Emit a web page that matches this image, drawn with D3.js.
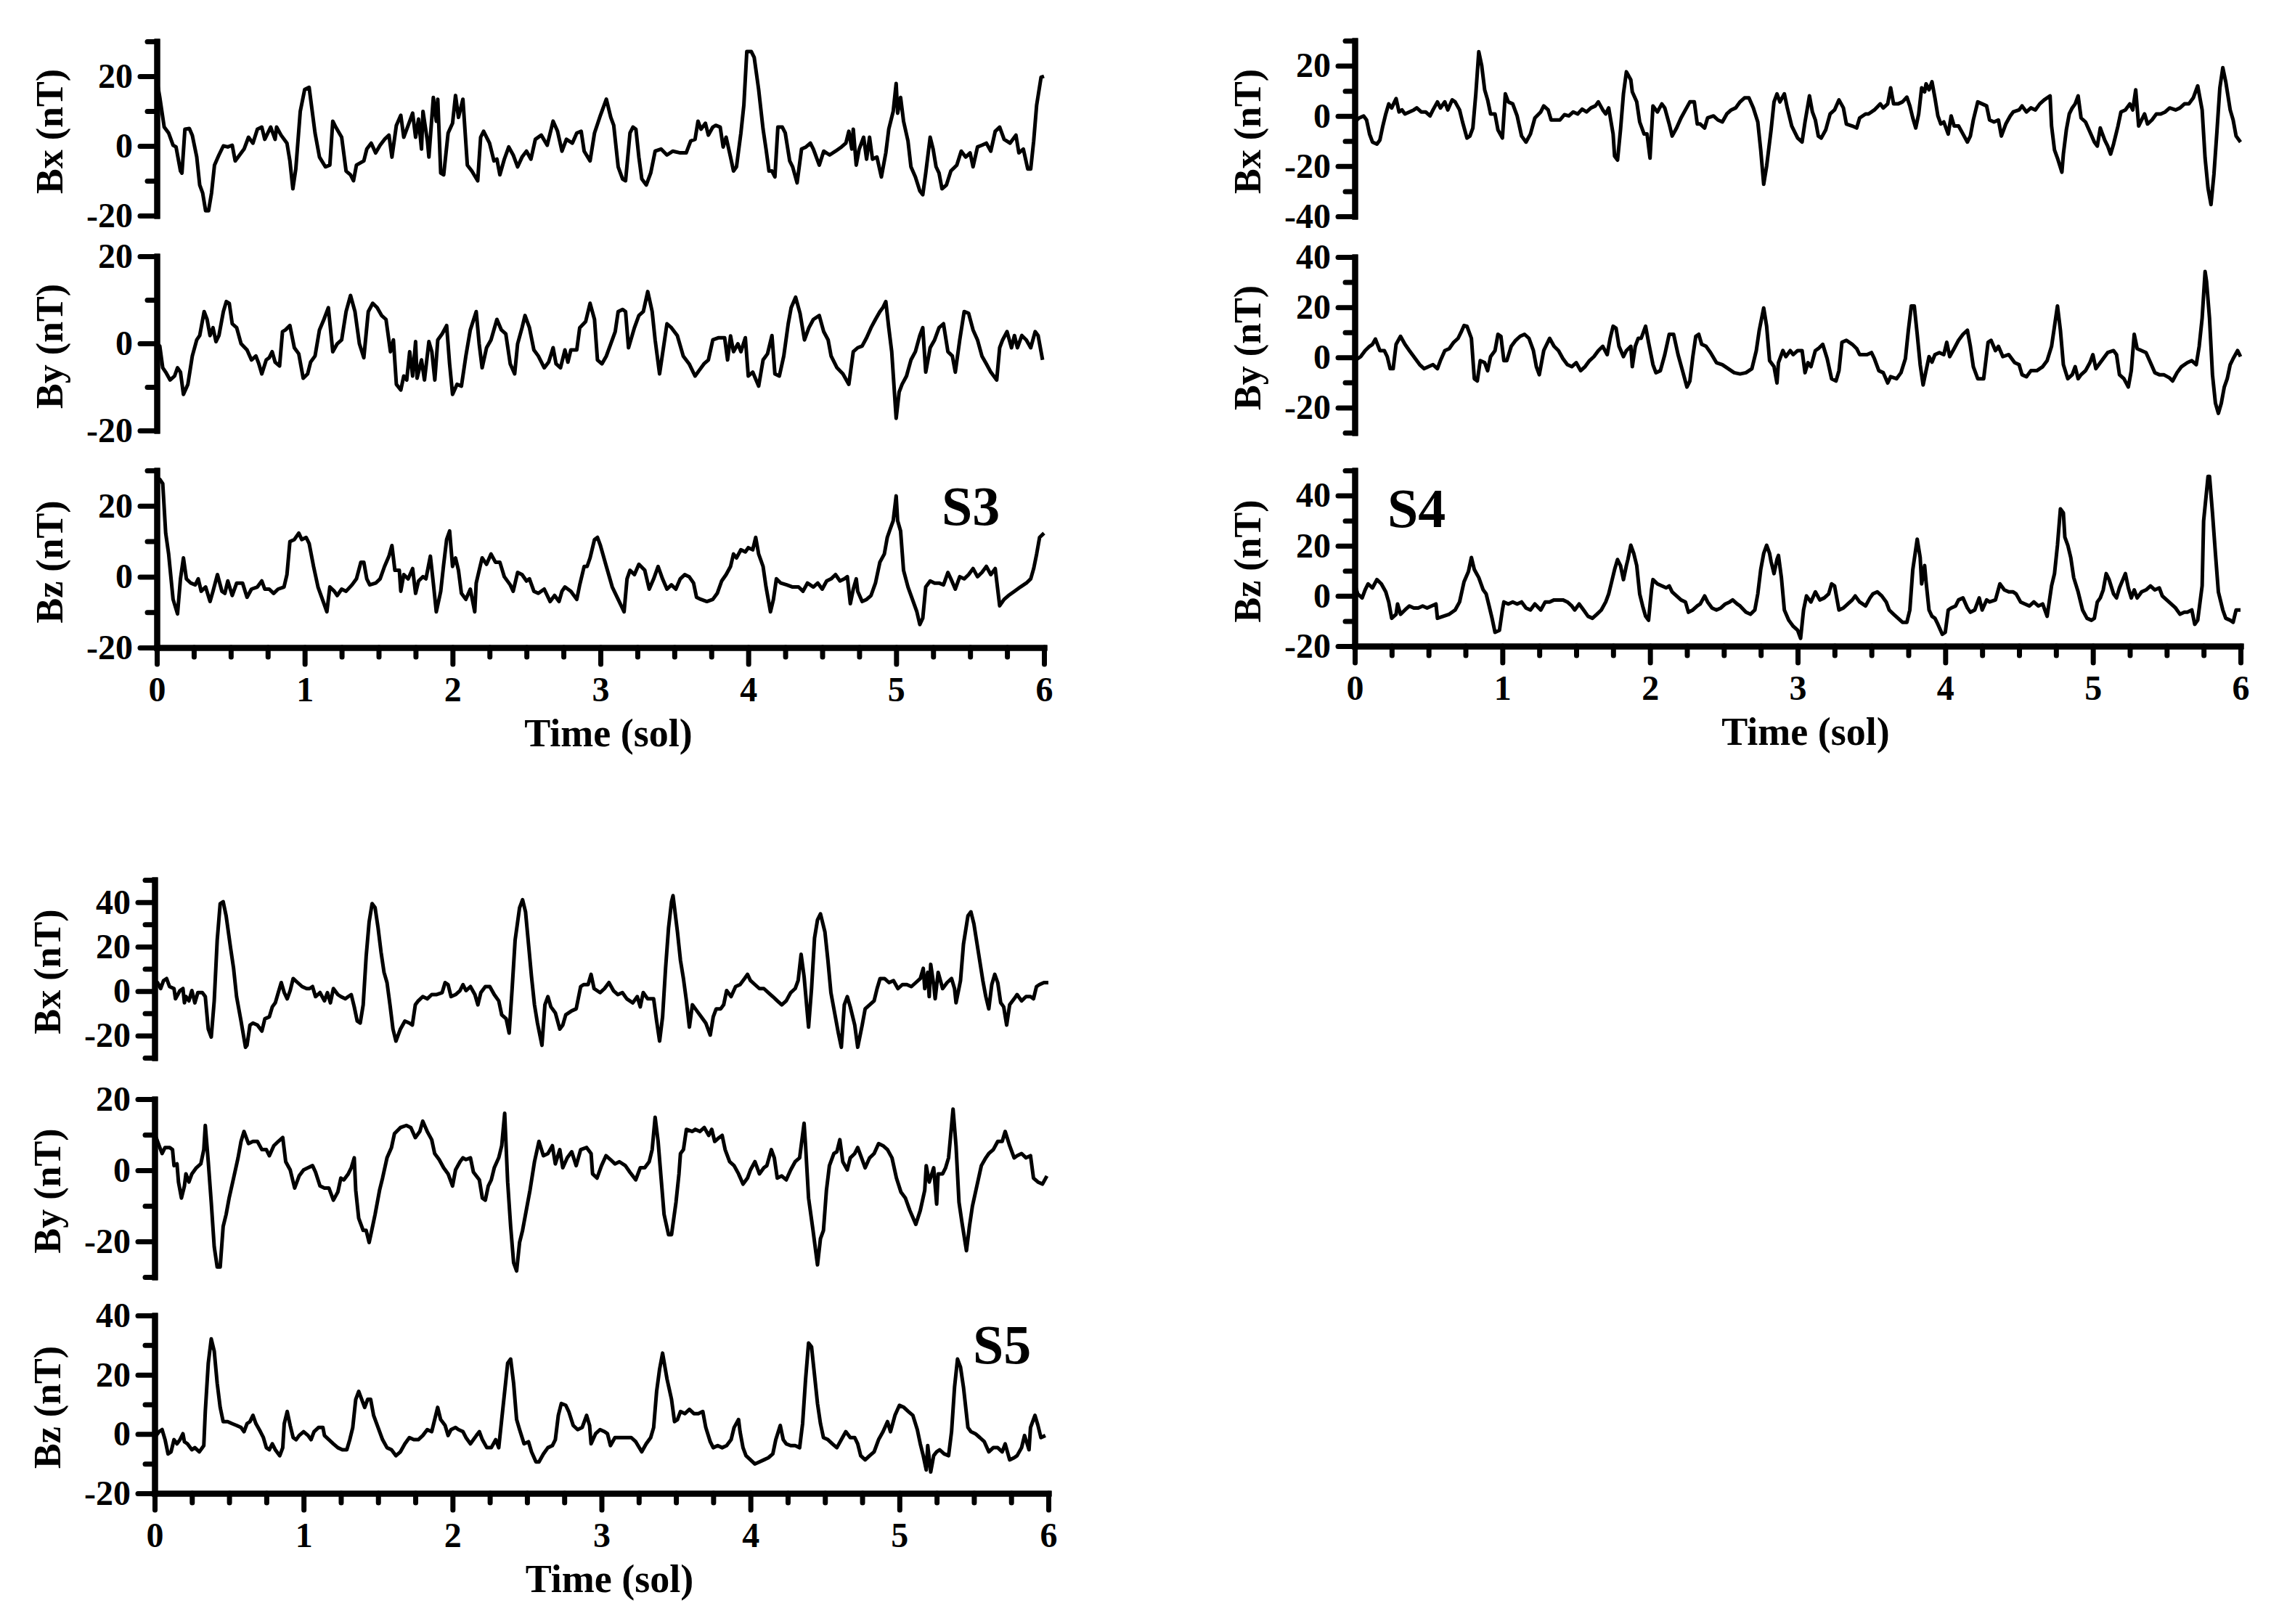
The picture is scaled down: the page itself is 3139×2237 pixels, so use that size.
<!DOCTYPE html>
<html>
<head>
<meta charset="utf-8">
<script src="https://cdn.jsdelivr.net/npm/d3@7"></script>
<style>
  body { margin: 0; background: #fff; }
  svg text { font-family: "Liberation Serif", "Times New Roman", serif; font-weight: bold; fill: #000; }
</style>
</head>
<body>
<div class="viz"></div>
<script>
// series: [time (sol), field (nT)]
const s3Bx = [[0,19],[0.02,14],[0.05,5.4],[0.08,3.7],[0.11,0.2],[0.13,-0.3],[0.16,-7.2],[0.17,-7.8],[0.19,4.8],[0.22,5],[0.24,3],[0.27,-3.2],[0.29,-11.2],[0.31,-13.5],[0.33,-18.6],[0.35,-18.6],[0.37,-13.5],[0.39,-5.5],[0.42,-2.6],[0.45,0],[0.48,-0.3],[0.51,0.2],[0.53,-4.3],[0.56,-2.6],[0.59,-0.9],[0.62,2.5],[0.65,0.8],[0.68,4.8],[0.71,5.4],[0.73,1.9],[0.77,5.4],[0.8,1.9],[0.81,5.4],[0.84,3.1],[0.88,0.8],[0.9,-4.3],[0.92,-12.3],[0.94,-6.6],[0.97,9.9],[1.0,16.2],[1.03,16.8],[1.07,3.7],[1.1,-3.2],[1.14,-6],[1.17,-5.5],[1.19,7.1],[1.21,5.4],[1.25,2.5],[1.28,-7.2],[1.31,-8.3],[1.33,-10],[1.35,-5.5],[1.4,-4.3],[1.42,-0.9],[1.45,0.8],[1.48,-2],[1.51,0.2],[1.54,1.9],[1.57,3.1],[1.59,-3.2],[1.62,5.9],[1.65,8.8],[1.67,2.5],[1.7,5.9],[1.73,9.4],[1.75,2.5],[1.77,7.7],[1.79,-0.9],[1.8,9.9],[1.83,1.4],[1.84,-3.2],[1.87,13.9],[1.89,7.1],[1.9,13.4],[1.92,-7.8],[1.94,-8.3],[1.97,3.7],[2.0,6.5],[2.02,14.5],[2.04,8.2],[2.07,13.4],[2.1,-5.5],[2.13,-7.2],[2.17,-10],[2.19,2.5],[2.21,4.2],[2.25,0.8],[2.28,-4.3],[2.3,-3.8],[2.32,-8.3],[2.35,-3.8],[2.38,-0.3],[2.41,-2.6],[2.44,-6],[2.47,-3.2],[2.5,-1.5],[2.53,-3.8],[2.56,1.9],[2.6,3.1],[2.64,0.2],[2.68,7.1],[2.71,4.2],[2.74,-1.5],[2.77,1.9],[2.81,0.8],[2.84,3.7],[2.87,4.2],[2.89,-1.5],[2.93,-4.3],[2.96,3.7],[3.0,8.8],[3.04,13.4],[3.07,8.2],[3.09,5.9],[3.12,-6],[3.15,-9.5],[3.17,-10],[3.2,3.7],[3.22,5.4],[3.24,4.8],[3.26,-3.2],[3.28,-9.5],[3.31,-11.2],[3.34,-7.8],[3.37,-1.5],[3.41,-0.9],[3.45,-2.6],[3.49,-1.5],[3.54,-2],[3.58,-2],[3.61,1.4],[3.64,1.9],[3.66,7.1],[3.68,4.8],[3.71,6.5],[3.73,3.1],[3.76,5.4],[3.78,5.9],[3.81,5.4],[3.83,-0.3],[3.85,2.5],[3.88,-3.2],[3.9,-7.2],[3.92,-6],[3.95,3.7],[3.97,11.7],[3.99,27.1],[4.02,27.1],[4.04,25.4],[4.07,16.2],[4.1,4.8],[4.12,-0.9],[4.14,-7.2],[4.16,-7.2],[4.18,-8.9],[4.2,5.4],[4.23,5.4],[4.25,3.7],[4.28,-4.3],[4.3,-6],[4.33,-10.6],[4.36,-0.9],[4.39,-0.3],[4.42,0.8],[4.44,-0.9],[4.48,-5.5],[4.51,-1.5],[4.55,-2.6],[4.59,-1.5],[4.63,-0.3],[4.66,0.8],[4.68,4.2],[4.7,-0.9],[4.71,4.8],[4.73,-5.5],[4.75,-0.9],[4.78,2.5],[4.8,-3.8],[4.82,2.5],[4.84,-3.8],[4.87,-3.2],[4.9,-8.9],[4.93,-2],[4.95,4.8],[4.98,9.9],[5.0,17.9],[5.01,9.4],[5.03,13.9],[5.05,7.1],[5.08,1.4],[5.1,-6],[5.13,-8.9],[5.16,-12.9],[5.18,-14],[5.2,-7.8],[5.23,2.5],[5.25,-0.9],[5.27,-6],[5.29,-7.8],[5.31,-12.3],[5.34,-11.2],[5.37,-7.2],[5.41,-5.5],[5.44,-1.5],[5.47,-3.2],[5.5,-2],[5.52,-6],[5.55,-0.3],[5.58,0.2],[5.61,0.8],[5.64,-1.5],[5.67,4.2],[5.7,5.4],[5.73,1.9],[5.77,0.8],[5.81,3.1],[5.83,-2],[5.86,-0.9],[5.89,-6.6],[5.91,-6.6],[5.93,1.4],[5.95,11.7],[5.98,19.7],[6.0,20]];
const s3By = [[0,0],[0.02,-0.6],[0.04,-5.6],[0.06,-6.6],[0.09,-8.4],[0.12,-7.5],[0.14,-5.6],[0.16,-6.6],[0.18,-11.7],[0.21,-9.4],[0.24,-2.9],[0.27,0.8],[0.29,1.8],[0.32,7.3],[0.34,5.5],[0.36,1.8],[0.38,3.6],[0.4,0.4],[0.42,1.8],[0.45,7.3],[0.47,9.6],[0.49,9.2],[0.51,4.5],[0.54,3.6],[0.57,-0.1],[0.61,-1.5],[0.64,-3.8],[0.67,-2.9],[0.69,-4.7],[0.71,-7],[0.74,-3.8],[0.76,-3.3],[0.78,-1.9],[0.8,-4.3],[0.83,-5.2],[0.85,2.7],[0.87,3.1],[0.9,4.1],[0.93,-1],[0.96,-2.4],[0.99,-8],[1.02,-7],[1.04,-4.3],[1.07,-2.9],[1.1,3.1],[1.13,5.5],[1.16,8.2],[1.19,-1.9],[1.22,-0.1],[1.25,0.8],[1.28,7.3],[1.31,11],[1.34,7.3],[1.37,-0.1],[1.4,-3.3],[1.43,7.3],[1.46,9.2],[1.49,8.2],[1.52,6.4],[1.55,5.5],[1.58,-1.9],[1.6,0.8],[1.62,-9.4],[1.65,-10.7],[1.67,-7.5],[1.69,-8.4],[1.71,-1.9],[1.73,-7.5],[1.75,0.4],[1.76,-8],[1.79,-3.8],[1.81,-8.4],[1.84,0.4],[1.86,-1.9],[1.88,-8.4],[1.9,0.8],[1.93,2.2],[1.96,4.1],[1.98,-4.7],[2.0,-11.7],[2.03,-9.4],[2.06,-9.8],[2.09,-2.9],[2.12,3.1],[2.16,7.3],[2.18,-0.1],[2.2,-5.6],[2.23,-1],[2.26,0.8],[2.3,5.5],[2.33,3.1],[2.36,2.2],[2.39,-4.7],[2.42,-7],[2.44,-0.1],[2.47,3.6],[2.49,6.4],[2.52,3.6],[2.55,-1.5],[2.58,-2.9],[2.62,-5.6],[2.65,-4.3],[2.68,-1],[2.7,-4.7],[2.73,-5.6],[2.76,-1.5],[2.78,-4.3],[2.8,-1.5],[2.84,-1.5],[2.86,3.6],[2.9,5],[2.93,9.2],[2.96,5.5],[2.98,-3.8],[3.01,-4.7],[3.04,-2.9],[3.07,-0.1],[3.1,2.7],[3.12,7.3],[3.15,7.8],[3.17,7.3],[3.19,-1],[3.23,3.6],[3.26,6.4],[3.29,7.3],[3.32,11.9],[3.35,7.3],[3.37,0.8],[3.4,-7],[3.43,-0.1],[3.45,4.5],[3.48,3.6],[3.52,1.8],[3.56,-2.9],[3.6,-4.7],[3.64,-7.5],[3.67,-6.1],[3.7,-4.7],[3.73,-3.8],[3.76,0.8],[3.8,1.3],[3.84,1.3],[3.86,-3.8],[3.88,1.7],[3.9,-1.9],[3.93,-0.1],[3.95,-1.9],[3.98,1.3],[4.0,-7.5],[4.03,-6.6],[4.07,-9.8],[4.1,-3.8],[4.13,-2.4],[4.16,1.8],[4.18,-7],[4.21,-7.5],[4.24,-2.9],[4.27,4.5],[4.29,8.2],[4.32,10.6],[4.35,6.9],[4.38,0.8],[4.41,3.6],[4.44,5.5],[4.48,6.4],[4.51,2.7],[4.54,0.8],[4.56,-2.9],[4.6,-5.6],[4.64,-7],[4.68,-9.4],[4.71,-1.9],[4.74,-1],[4.77,-0.6],[4.8,1.3],[4.83,3.6],[4.86,5.5],[4.89,7.3],[4.91,8.2],[4.93,9.6],[4.95,3.6],[4.97,-1.9],[4.98,-7],[5.0,-17.2],[5.02,-11.2],[5.04,-9.4],[5.07,-7.5],[5.1,-3.8],[5.13,-1.9],[5.16,1.8],[5.18,3.6],[5.2,-6.6],[5.23,-1],[5.26,0.8],[5.29,3.6],[5.32,4.5],[5.35,-1.9],[5.38,-2.9],[5.4,-6.6],[5.43,0.8],[5.46,7.3],[5.49,6.9],[5.52,3.1],[5.55,0.8],[5.58,-2.9],[5.61,-4.7],[5.64,-6.6],[5.68,-8.4],[5.7,-1],[5.72,0.8],[5.75,2.7],[5.78,-1],[5.8,1.8],[5.82,-1],[5.85,1.8],[5.88,0.8],[5.91,-1],[5.94,2.7],[5.96,1.8],[5.99,-3.8]];
const s3Bz = [[0,27.5],[0.02,27.5],[0.04,26.3],[0.06,12.3],[0.08,6.4],[0.11,-6.4],[0.14,-10.5],[0.16,-0.6],[0.18,5.3],[0.2,-0.6],[0.23,-1.8],[0.26,-2.3],[0.28,-0.6],[0.3,-4.1],[0.33,-2.9],[0.36,-7],[0.38,-4.1],[0.41,0.6],[0.44,-4.1],[0.46,-4.7],[0.48,-1.2],[0.51,-5.3],[0.54,-1.8],[0.58,-1.8],[0.61,-5.8],[0.64,-3.5],[0.68,-2.9],[0.71,-1.2],[0.73,-3.5],[0.76,-3.5],[0.79,-4.7],[0.82,-3.5],[0.86,-2.9],[0.88,0.6],[0.9,9.9],[0.93,10.5],[0.96,12.3],[0.98,10.5],[1.01,11.1],[1.03,9.4],[1.06,2.9],[1.09,-2.9],[1.12,-6.4],[1.15,-9.9],[1.17,-2.9],[1.2,-4.1],[1.22,-5.3],[1.25,-3.5],[1.28,-4.1],[1.32,-2.3],[1.35,-0.6],[1.38,4.1],[1.4,4.1],[1.42,-0.6],[1.44,-2.3],[1.48,-1.8],[1.51,-0.6],[1.54,2.9],[1.57,5.8],[1.59,8.8],[1.61,1.8],[1.64,1.8],[1.65,-4.1],[1.67,0.6],[1.7,-0.6],[1.73,2.3],[1.75,-4.7],[1.77,-1.2],[1.8,0],[1.82,-0.6],[1.85,5.8],[1.87,-1.8],[1.89,-9.9],[1.92,-4.1],[1.94,3.5],[1.96,10.5],[1.98,12.9],[2.0,2.9],[2.02,5.3],[2.04,1.8],[2.06,-4.7],[2.09,-6.4],[2.12,-3.5],[2.15,-9.9],[2.16,-1.8],[2.18,1.8],[2.2,5.3],[2.23,3.5],[2.26,6.4],[2.29,4.1],[2.32,4.1],[2.35,0],[2.39,-2.3],[2.41,-4.1],[2.44,1.2],[2.47,0.6],[2.5,-1.2],[2.52,-0.6],[2.55,-4.1],[2.58,-4.7],[2.62,-3.5],[2.66,-7],[2.69,-5.3],[2.72,-7],[2.74,-4.1],[2.76,-2.9],[2.8,-4.1],[2.84,-6.4],[2.86,-2.3],[2.89,2.9],[2.91,2.9],[2.93,5.3],[2.96,10.5],[2.98,11.1],[3.0,8.8],[3.04,2.9],[3.08,-2.9],[3.12,-6.4],[3.16,-9.9],[3.18,-0.6],[3.2,1.8],[3.23,0.6],[3.26,3.5],[3.3,1.8],[3.33,-3.5],[3.36,-0.6],[3.39,2.9],[3.42,-0.6],[3.45,-3.5],[3.48,-2.3],[3.51,-3.5],[3.54,-0.6],[3.57,0.6],[3.6,0],[3.63,-1.8],[3.65,-5.8],[3.68,-6.4],[3.72,-7],[3.76,-6.4],[3.79,-4.7],[3.82,-1.2],[3.85,0.6],[3.88,2.9],[3.9,6.4],[3.92,5.3],[3.95,7.6],[3.98,7],[4.0,8.2],[4.03,7.6],[4.05,11.1],[4.07,6.4],[4.1,2.9],[4.12,-2.9],[4.15,-9.9],[4.17,-6.4],[4.19,-0.6],[4.22,-1.8],[4.26,-2.3],[4.3,-2.9],[4.34,-2.9],[4.37,-4.1],[4.4,-1.8],[4.44,-2.9],[4.47,-1.8],[4.5,-3.5],[4.53,-1.2],[4.56,-0.6],[4.59,0.6],[4.62,-1.2],[4.65,-0.6],[4.67,0],[4.69,-7.6],[4.71,-3.5],[4.73,-0.6],[4.74,-4.1],[4.77,-7],[4.8,-6.4],[4.83,-5.3],[4.86,-1.8],[4.89,4.1],[4.92,6.4],[4.94,11.1],[4.96,13.5],[4.98,15.8],[5.0,22.8],[5.01,15.8],[5.03,12.9],[5.05,1.8],[5.08,-2.9],[5.11,-6.4],[5.14,-9.9],[5.16,-13.5],[5.18,-11.7],[5.2,-2.9],[5.23,-1.2],[5.26,-1.8],[5.29,-1.8],[5.32,-2.3],[5.35,1.2],[5.37,-0.6],[5.4,-3.5],[5.43,0],[5.46,-0.6],[5.49,0.6],[5.52,2.3],[5.55,0],[5.58,1.2],[5.61,2.9],[5.64,0.6],[5.67,2.3],[5.7,-8.2],[5.73,-6.4],[5.76,-5.3],[5.8,-4.1],[5.84,-2.9],[5.88,-1.8],[5.91,-0.6],[5.93,2.3],[5.95,6.4],[5.97,11.1],[6.0,12.3]];

const s4Bx = [[0,-2.4],[0.03,-0.8],[0.06,0],[0.08,-1.6],[0.1,-7.2],[0.12,-10.4],[0.15,-11.2],[0.17,-9.6],[0.19,-4],[0.21,0.8],[0.23,4.8],[0.25,3.2],[0.28,6.9],[0.3,1.6],[0.32,2.4],[0.34,0.8],[0.37,1.6],[0.4,2.4],[0.42,3.2],[0.45,1.6],[0.48,1.6],[0.51,0],[0.53,2.4],[0.56,5.6],[0.58,3.2],[0.61,5.6],[0.63,2.4],[0.66,6.4],[0.68,5.6],[0.71,2.4],[0.73,-2.4],[0.76,-8.8],[0.78,-8],[0.8,-4.8],[0.82,8.8],[0.84,25.6],[0.86,20],[0.88,10.4],[0.9,6.4],[0.92,0.8],[0.95,0.8],[0.97,-5.6],[1.0,-8.8],[1.02,8.8],[1.04,5.6],[1.07,4.8],[1.1,0],[1.13,-8],[1.16,-10.4],[1.19,-7.2],[1.22,-0.8],[1.26,1.6],[1.28,4],[1.31,2.4],[1.33,-1.6],[1.36,-1.6],[1.39,-1.6],[1.42,0.5],[1.45,0],[1.48,1.6],[1.51,0.8],[1.54,2.7],[1.57,1.6],[1.6,3.2],[1.63,4],[1.65,5.6],[1.68,2.4],[1.7,0.8],[1.72,3.2],[1.75,-7.2],[1.76,-16],[1.78,-17.6],[1.8,-5.6],[1.82,8.8],[1.84,17.6],[1.87,14.4],[1.88,9.6],[1.91,5.6],[1.93,-2.4],[1.96,-7.2],[1.98,-7.2],[2.0,-16.8],[2.02,4],[2.05,1.6],[2.08,4.8],[2.1,3.2],[2.13,-3.2],[2.15,-8],[2.18,-4.8],[2.21,-0.8],[2.24,2.4],[2.27,5.6],[2.3,5.6],[2.32,-3.2],[2.34,-3.2],[2.37,-4.8],[2.39,-0.8],[2.43,0],[2.46,-1.6],[2.49,-2.4],[2.52,0.8],[2.55,2.4],[2.58,3.2],[2.61,5.6],[2.64,7.2],[2.67,7.2],[2.7,3.2],[2.73,-2.4],[2.75,-13.6],[2.77,-27.2],[2.79,-20],[2.82,-5.6],[2.84,5.6],[2.86,8.8],[2.88,5.6],[2.91,8.8],[2.93,3.2],[2.96,-4],[3.0,-8.8],[3.03,-10.4],[3.05,-2.4],[3.08,8],[3.1,1.6],[3.12,-1.6],[3.14,-8],[3.16,-8.8],[3.19,-5.6],[3.22,0.8],[3.25,2.4],[3.28,6.4],[3.31,3.2],[3.33,-3.2],[3.37,-4],[3.4,-4.8],[3.42,-0.8],[3.46,0.8],[3.48,0.8],[3.52,2.4],[3.56,4.8],[3.58,3.2],[3.61,4.8],[3.63,11.2],[3.65,4.8],[3.68,4.8],[3.71,5.6],[3.74,7.5],[3.76,4],[3.78,-0.8],[3.8,-4.8],[3.82,0.8],[3.84,11.2],[3.86,9.6],[3.87,12.8],[3.89,10.4],[3.91,13.6],[3.93,7.2],[3.95,0],[3.97,-3.2],[3.99,-2.4],[4.02,-7.2],[4.04,0],[4.06,-4],[4.09,-4],[4.12,-7.2],[4.15,-10.4],[4.17,-8],[4.19,-1.6],[4.22,5.6],[4.25,4.8],[4.28,4],[4.3,-1.6],[4.33,-2.4],[4.36,-1.6],[4.38,-8],[4.41,-3.2],[4.44,0],[4.46,1.6],[4.5,2.4],[4.52,4],[4.55,1.6],[4.58,3.2],[4.61,2.4],[4.64,4.8],[4.67,6.4],[4.71,8],[4.72,-4],[4.74,-13.6],[4.76,-16.8],[4.79,-22.4],[4.8,-15.2],[4.82,-5.6],[4.84,0.8],[4.86,3.2],[4.88,4.8],[4.9,8],[4.92,-0.8],[4.95,-2.4],[4.98,-6.4],[5.01,-10.4],[5.03,-12],[5.05,-4.8],[5.08,-9.6],[5.1,-12],[5.12,-15.2],[5.14,-11.2],[5.17,-4],[5.19,1.6],[5.22,2.4],[5.25,4.8],[5.27,2.4],[5.29,10.4],[5.31,-4],[5.35,0.8],[5.37,-3.2],[5.4,-1.6],[5.43,0.8],[5.46,0.8],[5.49,1.6],[5.52,3.2],[5.56,2.4],[5.59,3.2],[5.62,4.8],[5.65,4.8],[5.68,7.2],[5.71,12],[5.74,2.4],[5.76,-16.8],[5.78,-28.8],[5.8,-35.3],[5.82,-23.2],[5.84,-6.4],[5.86,11.2],[5.88,19.2],[5.9,13.6],[5.93,2.4],[5.95,-1.6],[5.97,-8],[6.0,-10.4]];
const s4By = [[0,-1.3],[0.04,0.3],[0.07,2.7],[0.1,4.4],[0.12,5.2],[0.14,7.3],[0.17,2.7],[0.2,2.7],[0.22,0.3],[0.24,-4.5],[0.26,-4.5],[0.28,5.2],[0.31,8.4],[0.34,5.2],[0.37,2.7],[0.4,0.3],[0.44,-2.9],[0.47,-4.5],[0.5,-3.7],[0.53,-2.9],[0.56,-4.5],[0.58,-1.3],[0.61,2.7],[0.64,3.5],[0.67,6],[0.7,7.6],[0.72,10],[0.74,12.7],[0.76,12.4],[0.79,7.6],[0.81,-8.5],[0.83,-9.4],[0.85,-1.3],[0.88,-2.1],[0.9,-5.3],[0.92,0.3],[0.95,2.7],[0.97,9.2],[0.99,8.4],[1.01,-1.3],[1.03,-1.3],[1.06,4.4],[1.09,6.8],[1.12,8.4],[1.15,9.2],[1.18,7.6],[1.21,2.7],[1.23,-3.7],[1.25,-6.9],[1.28,2.7],[1.32,7.6],[1.35,4.4],[1.38,2.7],[1.41,-0.5],[1.44,-2.9],[1.47,-3.7],[1.5,-2.1],[1.53,-5.3],[1.56,-3.7],[1.59,-1.3],[1.62,0.3],[1.65,2.7],[1.68,4.4],[1.71,1.1],[1.73,7.6],[1.75,12.4],[1.77,11.6],[1.79,4.4],[1.82,0.3],[1.84,2.7],[1.87,4.4],[1.88,-3.7],[1.9,4.4],[1.92,7.6],[1.94,7.6],[1.97,12.4],[1.99,6],[2.02,-2.9],[2.04,-6.1],[2.07,-5.3],[2.1,1.1],[2.13,9.2],[2.16,9.2],[2.19,1.1],[2.22,-5.3],[2.25,-11.8],[2.27,-9.4],[2.29,0.3],[2.31,8.4],[2.33,9.2],[2.35,5.2],[2.38,4.4],[2.41,1.9],[2.45,-2.1],[2.49,-2.9],[2.53,-4.5],[2.57,-6.1],[2.61,-6.6],[2.65,-6.1],[2.69,-4.5],[2.72,2.7],[2.74,10.8],[2.77,19.7],[2.79,12.4],[2.81,-1.3],[2.84,-3.7],[2.86,-10.2],[2.87,-2.1],[2.9,2.7],[2.92,0.3],[2.95,2.7],[2.97,1.1],[3.0,2.7],[3.03,2.7],[3.05,-6.1],[3.07,-2.1],[3.09,-3.7],[3.12,2.7],[3.14,3.5],[3.17,5.2],[3.2,-0.5],[3.23,-8.5],[3.26,-9.4],[3.28,-5.3],[3.3,6],[3.33,6.8],[3.37,5.2],[3.4,3.5],[3.42,1.1],[3.47,1.1],[3.5,1.9],[3.52,-0.5],[3.55,-5.3],[3.58,-6.1],[3.61,-10.2],[3.63,-7.7],[3.67,-8.5],[3.7,-6.1],[3.73,-0.5],[3.75,10.8],[3.77,20.5],[3.79,20.5],[3.81,9.2],[3.83,-2.9],[3.85,-11],[3.87,-5.3],[3.89,0.3],[3.91,-1.9],[3.93,1.1],[3.96,1.9],[3.99,1.1],[4.01,6],[4.03,0.3],[4.06,3.5],[4.09,6.8],[4.12,9.2],[4.15,10.8],[4.17,4.4],[4.19,-3.7],[4.22,-8.5],[4.26,-8.5],[4.29,6],[4.31,6.8],[4.34,2.7],[4.36,4.4],[4.39,0.3],[4.43,1.1],[4.47,-2.1],[4.5,-2.9],[4.52,-6.9],[4.55,-7.7],[4.58,-5.3],[4.62,-5.3],[4.66,-3.7],[4.69,-1.3],[4.72,4.4],[4.74,12.4],[4.76,20.5],[4.78,10.8],[4.8,-2.9],[4.83,-8.5],[4.86,-6.9],[4.88,-3.7],[4.9,-8.5],[4.92,-6.9],[4.95,-5.3],[4.98,-2.1],[5.0,1.1],[5.02,-4.5],[5.05,-2.1],[5.08,0.3],[5.1,1.9],[5.14,2.7],[5.16,1.1],[5.18,-6.9],[5.21,-8.5],[5.24,-11.8],[5.26,-5.3],[5.28,9.2],[5.3,3.5],[5.33,2.7],[5.36,1.9],[5.39,-2.1],[5.42,-6.1],[5.45,-6.9],[5.48,-6.9],[5.52,-8.2],[5.54,-9.4],[5.57,-6.1],[5.6,-3.7],[5.64,-2.1],[5.67,-1.3],[5.7,-2.9],[5.72,4.4],[5.74,15.6],[5.76,34.2],[5.77,30.2],[5.79,15.6],[5.81,-6.9],[5.83,-18.2],[5.85,-22.3],[5.87,-18.2],[5.89,-11.8],[5.91,-8.5],[5.93,-2.9],[5.95,-0.5],[5.98,2.7],[6.0,0.3]];
const s4Bz = [[0,4.8],[0.02,0.8],[0.05,-0.8],[0.07,2.4],[0.09,4.8],[0.12,3.2],[0.15,6.5],[0.18,4.8],[0.21,1.6],[0.23,-2.4],[0.25,-8.9],[0.28,-7.3],[0.29,-3.2],[0.31,-7.3],[0.34,-5.6],[0.37,-4],[0.4,-4.8],[0.43,-4.8],[0.46,-4],[0.49,-4.8],[0.52,-4],[0.55,-3.2],[0.56,-8.9],[0.6,-8.1],[0.64,-7.3],[0.68,-5.6],[0.71,-2.4],[0.74,5.6],[0.77,9.7],[0.79,15.3],[0.81,10.5],[0.84,7.3],[0.87,2.4],[0.89,0.8],[0.91,-4],[0.93,-8.9],[0.95,-14.5],[0.98,-13.7],[1.0,-5.6],[1.01,-2.4],[1.04,-3.2],[1.07,-2.4],[1.1,-3.2],[1.13,-2.4],[1.16,-4.8],[1.19,-5.6],[1.22,-3.2],[1.26,-5.6],[1.29,-2.4],[1.32,-2.4],[1.35,-1.6],[1.38,-1.6],[1.41,-1.6],[1.44,-2.4],[1.47,-4],[1.49,-5.6],[1.52,-3.2],[1.55,-5.6],[1.58,-8.1],[1.61,-8.9],[1.64,-7.3],[1.67,-5.6],[1.7,-2.4],[1.72,0.8],[1.74,5.6],[1.76,10.5],[1.78,14.5],[1.8,12.1],[1.82,6.5],[1.84,12.1],[1.85,14.5],[1.87,20.2],[1.89,16.9],[1.91,12.1],[1.93,0.8],[1.95,-4],[1.97,-8.1],[1.99,-9.7],[2.01,2.4],[2.02,6.5],[2.05,4.8],[2.08,4],[2.11,3.2],[2.13,4],[2.15,1.6],[2.18,0],[2.21,-1.6],[2.24,-2.4],[2.26,-6.5],[2.29,-5.6],[2.32,-4],[2.34,-3.2],[2.37,0],[2.39,-2.4],[2.42,-4.8],[2.45,-5.6],[2.48,-4.8],[2.51,-3.2],[2.54,-2.4],[2.56,-1.6],[2.59,-3.2],[2.61,-4],[2.65,-6.5],[2.68,-7.3],[2.71,-5.6],[2.73,0.8],[2.75,10.5],[2.77,16.9],[2.79,20.2],[2.81,16.9],[2.82,13.7],[2.84,8.9],[2.86,14.5],[2.87,16.1],[2.89,7.3],[2.91,-5.6],[2.94,-9.7],[2.97,-12.1],[3.0,-13.7],[3.02,-16.9],[3.04,-5.6],[3.06,0],[3.09,-2.4],[3.12,1.6],[3.15,-1.6],[3.18,-0.8],[3.21,0.8],[3.23,4.8],[3.25,4],[3.28,-5.6],[3.31,-4.8],[3.34,-3.2],[3.37,-1.6],[3.39,0],[3.42,-2.4],[3.46,-4],[3.49,-0.8],[3.51,0.8],[3.54,1.6],[3.57,0],[3.6,-2.4],[3.62,-5.6],[3.65,-7.3],[3.68,-8.9],[3.71,-10.5],[3.74,-10.5],[3.76,-5.6],[3.78,10.5],[3.81,22.6],[3.83,15.3],[3.84,4.8],[3.86,12.1],[3.87,5.6],[3.89,-5.6],[3.91,-8.1],[3.93,-8.9],[3.95,-11.3],[3.98,-15.3],[4.0,-14.5],[4.02,-5.6],[4.04,-4.8],[4.07,-4],[4.09,-1.6],[4.12,-0.8],[4.15,-4.8],[4.17,-6.5],[4.2,-5.6],[4.23,-0.8],[4.25,-5.6],[4.28,-1.6],[4.3,-2.4],[4.34,-1.6],[4.37,4.8],[4.4,2.4],[4.43,1.6],[4.46,1.6],[4.48,0.8],[4.51,-2.4],[4.54,-3.2],[4.57,-4],[4.6,-2.4],[4.63,-4],[4.66,-3.2],[4.69,-8.1],[4.72,4],[4.74,8.9],[4.76,20.2],[4.78,34.7],[4.8,33.1],[4.81,23.4],[4.83,20.2],[4.85,15.3],[4.87,7.3],[4.9,1.6],[4.93,-5.6],[4.96,-8.9],[4.99,-9.7],[5.01,-8.9],[5.03,-2.4],[5.05,-0.8],[5.07,2.4],[5.09,8.9],[5.11,6.5],[5.14,0.8],[5.16,-0.8],[5.18,3.2],[5.22,8.9],[5.24,3.2],[5.26,-0.8],[5.28,2.4],[5.3,-0.8],[5.33,1.6],[5.36,2.4],[5.39,4],[5.42,2.4],[5.45,3.2],[5.47,0],[5.5,-1.6],[5.53,-3.2],[5.56,-4.8],[5.59,-7.3],[5.62,-6.5],[5.64,-6.5],[5.67,-5.6],[5.69,-11.3],[5.71,-9.7],[5.74,4],[5.75,29.8],[5.78,47.6],[5.79,47.6],[5.81,33.1],[5.83,16.9],[5.85,1.6],[5.88,-5.6],[5.9,-8.9],[5.93,-9.7],[5.95,-10.5],[5.97,-5.6],[6.0,-5.6]];

const s5Bx = [[0,2],[0.02,3.8],[0.04,1.1],[0.06,4.7],[0.08,5.6],[0.1,2],[0.13,1.1],[0.14,-3.5],[0.17,0.2],[0.19,1.1],[0.2,-5.3],[0.21,-2.5],[0.23,-4.4],[0.25,0.2],[0.27,-5.3],[0.29,-0.7],[0.32,-0.7],[0.34,-2.5],[0.36,-17.1],[0.38,-20.7],[0.4,-4.4],[0.42,22.9],[0.44,39.3],[0.46,40.2],[0.48,33.8],[0.51,19.3],[0.53,10.2],[0.55,-2.5],[0.58,-13.5],[0.61,-25.3],[0.62,-24.4],[0.64,-15.3],[0.66,-14.4],[0.69,-15.3],[0.72,-18],[0.74,-12.5],[0.77,-11.6],[0.79,-7.1],[0.81,-5.3],[0.83,-0.7],[0.85,3.8],[0.87,-0.7],[0.89,-3.5],[0.91,0.2],[0.93,5.6],[0.96,3.8],[0.99,2],[1.02,1.1],[1.04,1.1],[1.06,2],[1.08,-2.5],[1.11,-0.7],[1.14,-4.4],[1.16,-0.7],[1.18,-5.3],[1.2,1.1],[1.23,-1.6],[1.25,-2.5],[1.28,-3.5],[1.3,-2.5],[1.32,-1.6],[1.34,-7.1],[1.36,-13.5],[1.38,-14.4],[1.4,-6.2],[1.42,15.6],[1.44,31.1],[1.46,39.3],[1.48,37.5],[1.5,28.4],[1.52,17.5],[1.54,8.4],[1.56,3.8],[1.58,-6.2],[1.6,-17.1],[1.62,-22.5],[1.65,-17.1],[1.68,-13.5],[1.71,-14.4],[1.73,-15.3],[1.75,-6.2],[1.77,-4.4],[1.8,-2.5],[1.83,-3.5],[1.86,-1.6],[1.89,-1.6],[1.93,-0.7],[1.95,3.8],[1.97,2.9],[1.99,-2.5],[2.02,-1.6],[2.05,0.2],[2.07,2.9],[2.09,0.2],[2.12,2],[2.15,-1.6],[2.17,-6.2],[2.19,-0.7],[2.22,2],[2.25,2],[2.28,-1.6],[2.31,-4.4],[2.33,-10.7],[2.36,-12.5],[2.38,-18.9],[2.4,1.1],[2.42,22.9],[2.45,37.5],[2.47,41.1],[2.49,35.6],[2.51,21.1],[2.53,6.5],[2.55,-6.2],[2.57,-14.4],[2.6,-24.4],[2.62,-6.2],[2.64,-2.5],[2.66,-7.1],[2.69,-9.8],[2.72,-17.1],[2.74,-15.3],[2.76,-10.7],[2.8,-8.9],[2.83,-8],[2.86,2],[2.88,2.9],[2.91,2.9],[2.93,7.5],[2.95,1.1],[2.99,-0.7],[3.02,1.1],[3.05,3.8],[3.08,0.2],[3.11,-1.6],[3.14,-0.7],[3.17,-3.5],[3.21,-5.3],[3.24,-2.5],[3.26,-7.1],[3.28,-0.7],[3.31,-3.5],[3.35,-3.5],[3.37,-13.5],[3.39,-22.5],[3.41,-11.6],[3.43,10.2],[3.45,28.4],[3.47,40.2],[3.48,42.9],[3.49,37.5],[3.51,26.5],[3.53,13.8],[3.55,5.6],[3.57,-4.4],[3.59,-16.2],[3.61,-6.2],[3.64,-8.9],[3.67,-11.6],[3.7,-14.4],[3.73,-19.8],[3.75,-11.6],[3.77,-8],[3.8,-8],[3.82,-6.2],[3.84,0.2],[3.87,-2.5],[3.9,2],[3.93,2.9],[3.96,5.6],[3.98,7.5],[4.0,4.7],[4.03,2.9],[4.06,1.1],[4.09,1.1],[4.12,-0.7],[4.15,-2.5],[4.18,-4.4],[4.21,-6.2],[4.24,-4.4],[4.27,-0.7],[4.3,1.1],[4.32,4.7],[4.34,16.5],[4.36,6.5],[4.39,-16.2],[4.41,1.1],[4.43,23.8],[4.45,32],[4.47,34.7],[4.5,26.5],[4.52,13.8],[4.54,-0.7],[4.56,-8],[4.59,-18.9],[4.61,-25.3],[4.63,-6.2],[4.65,-2.5],[4.67,-7.1],[4.7,-15.3],[4.72,-25.3],[4.75,-15.3],[4.77,-8],[4.8,-6.2],[4.83,-4.4],[4.85,1.1],[4.87,5.6],[4.9,5.6],[4.93,3.8],[4.96,4.7],[4.99,1.1],[5.02,2.9],[5.05,2.9],[5.08,2],[5.11,3.8],[5.14,5.6],[5.16,10.2],[5.17,1.1],[5.19,8.4],[5.2,-2.5],[5.21,12],[5.23,2.9],[5.24,-3.5],[5.26,8.4],[5.29,1.1],[5.32,3.8],[5.35,5.6],[5.37,1.1],[5.38,-5.3],[5.41,4.7],[5.43,21.1],[5.46,33.8],[5.48,35.6],[5.5,30.2],[5.53,17.5],[5.56,4.7],[5.58,-2.5],[5.6,-8],[5.62,2.9],[5.64,7.5],[5.66,3.8],[5.68,-5.3],[5.7,-7.1],[5.72,-15.3],[5.74,-6.2],[5.77,-3.5],[5.79,-1.6],[5.82,-4.4],[5.85,-2.5],[5.88,-2.5],[5.9,-3.5],[5.92,2],[5.94,2.9],[5.97,3.8],[6.0,3.8]];
const s5By = [[0,10],[0.01,9.2],[0.03,6.9],[0.05,4.7],[0.07,6.4],[0.1,6.4],[0.12,5.8],[0.13,1.3],[0.15,1.8],[0.16,-3.3],[0.18,-7.8],[0.2,-4.4],[0.21,-1],[0.23,-3.3],[0.25,-1],[0.28,0.7],[0.31,1.8],[0.33,5.8],[0.34,12.6],[0.36,2.4],[0.38,-9],[0.4,-21.5],[0.42,-27.2],[0.44,-27.2],[0.46,-15.8],[0.48,-12.4],[0.5,-7.8],[0.53,-2.2],[0.56,3.5],[0.58,8.1],[0.6,10.9],[0.63,7.5],[0.66,8.1],[0.69,8.1],[0.72,5.8],[0.75,5.8],[0.77,4.1],[0.8,6.9],[0.83,8.1],[0.86,9.2],[0.88,2.4],[0.91,0.1],[0.94,-5],[0.97,-1.6],[1.0,0.1],[1.03,0.7],[1.06,1.3],[1.08,-0.5],[1.11,-4.4],[1.14,-5],[1.17,-5],[1.2,-8.4],[1.23,-6.1],[1.25,-2.2],[1.27,-2.7],[1.3,-1],[1.32,0.7],[1.34,3.5],[1.35,-5.6],[1.37,-13.5],[1.4,-16.9],[1.42,-16.9],[1.44,-20.3],[1.46,-16.4],[1.48,-12.4],[1.51,-5.6],[1.53,-2.2],[1.56,3.5],[1.59,6.4],[1.61,10.3],[1.65,12],[1.69,12.6],[1.72,12],[1.75,9.2],[1.78,10.9],[1.8,13.8],[1.83,10.9],[1.86,8.6],[1.88,4.7],[1.91,3],[1.94,0.7],[1.97,-1],[2.0,-4.4],[2.02,0.1],[2.05,2.4],[2.07,3.5],[2.09,3],[2.12,3.5],[2.14,-0.5],[2.18,-2.7],[2.2,-7.8],[2.22,-8.4],[2.24,-4.4],[2.26,-2.7],[2.28,0.7],[2.31,3.5],[2.33,6.9],[2.35,16],[2.37,-3.3],[2.39,-15.8],[2.41,-26],[2.43,-28.3],[2.45,-20.3],[2.47,-16.9],[2.5,-10.1],[2.52,-5.6],[2.55,2.4],[2.58,8.1],[2.61,4.1],[2.64,4.7],[2.67,6.9],[2.69,1.8],[2.72,5.8],[2.74,0.7],[2.77,3.5],[2.8,5.2],[2.83,1.3],[2.86,5.8],[2.9,6.4],[2.93,4.7],[2.94,-1],[2.97,-2.2],[3.0,1.3],[3.03,4.1],[3.06,3],[3.09,1.8],[3.12,2.4],[3.16,1.3],[3.19,-0.5],[3.23,-2.7],[3.26,0.7],[3.29,0.7],[3.32,2.4],[3.34,5.8],[3.36,14.9],[3.38,8.1],[3.4,-2.2],[3.42,-12.4],[3.45,-18.1],[3.47,-18.1],[3.5,-9],[3.52,-1],[3.53,4.7],[3.55,5.8],[3.57,11.5],[3.61,10.9],[3.63,11.5],[3.66,10.9],[3.69,12],[3.72,9.8],[3.74,11.5],[3.76,8.1],[3.79,9.2],[3.81,9.8],[3.83,5.8],[3.86,2.4],[3.89,1.3],[3.92,-1],[3.95,-3.9],[3.98,-2.2],[4.0,0.1],[4.03,2.4],[4.06,-1],[4.09,0.7],[4.11,1.3],[4.14,5.8],[4.16,3.5],[4.18,-2.2],[4.21,-1.6],[4.24,-2.7],[4.27,0.1],[4.3,2.4],[4.33,3.5],[4.36,13.2],[4.37,6.9],[4.39,-7.8],[4.42,-16.9],[4.45,-26.6],[4.47,-19.2],[4.49,-16.9],[4.51,-5.6],[4.53,1.3],[4.56,4.7],[4.58,5.2],[4.6,8.6],[4.62,2.4],[4.65,0.1],[4.67,3.5],[4.7,4.7],[4.72,6.4],[4.75,3],[4.77,0.7],[4.8,3.5],[4.83,4.7],[4.86,7.5],[4.89,6.9],[4.92,5.8],[4.95,3.5],[4.98,-2.2],[5.01,-6.1],[5.04,-7.8],[5.07,-11.3],[5.11,-15.2],[5.14,-11.3],[5.17,-5.6],[5.18,1.3],[5.2,-3.3],[5.23,0.7],[5.25,-9.5],[5.26,-1],[5.29,-1],[5.31,0.7],[5.33,3.5],[5.36,17.2],[5.38,6.9],[5.4,-9],[5.42,-14.7],[5.45,-22.6],[5.47,-15.8],[5.49,-10.1],[5.52,-4.4],[5.55,1.3],[5.58,3.5],[5.6,4.7],[5.63,5.8],[5.66,8.1],[5.69,8.1],[5.71,10.9],[5.74,6.9],[5.77,3.5],[5.79,4.1],[5.82,4.7],[5.85,3.5],[5.88,4.1],[5.9,-2.2],[5.93,-3.3],[5.96,-3.9],[5.99,-1.6]];
const s5Bz = [[0,0],[0.01,-0.5],[0.03,0.8],[0.05,1.5],[0.07,-1.9],[0.09,-6.7],[0.11,-6],[0.13,-1.9],[0.15,-3.3],[0.17,-1.9],[0.19,0.1],[0.2,-2.6],[0.22,-3.3],[0.25,-5.3],[0.27,-4.6],[0.3,-6],[0.33,-3.9],[0.34,7.6],[0.36,23.9],[0.38,32.1],[0.4,28],[0.42,17.1],[0.44,9],[0.46,4.2],[0.49,4.2],[0.52,3.5],[0.55,2.9],[0.58,2.2],[0.6,0.8],[0.62,3.5],[0.64,4.2],[0.66,6.3],[0.68,3.5],[0.71,0.8],[0.73,-1.2],[0.75,-4.6],[0.77,-5.3],[0.79,-3.3],[0.81,-5.3],[0.84,-7.3],[0.86,-4.6],[0.87,3.5],[0.89,7.6],[0.91,2.9],[0.93,-1.2],[0.95,-1.9],[0.97,-0.5],[1.0,0.8],[1.03,-0.5],[1.05,-1.9],[1.07,0.8],[1.1,2.2],[1.13,2.2],[1.14,-0.5],[1.17,-1.9],[1.2,-3.3],[1.23,-4.6],[1.26,-5.3],[1.29,-5.3],[1.31,-1.9],[1.33,2.2],[1.35,11.7],[1.37,14.4],[1.39,11.7],[1.41,9],[1.43,11.7],[1.45,11.7],[1.47,6.3],[1.5,2.2],[1.53,-1.9],[1.56,-4.6],[1.59,-5.3],[1.62,-7.3],[1.65,-6],[1.68,-3.3],[1.71,-1.2],[1.74,-1.9],[1.77,-1.9],[1.8,-0.5],[1.83,1.5],[1.86,0.8],[1.88,4.9],[1.9,9],[1.92,4.9],[1.95,2.9],[1.97,-0.5],[1.99,1.5],[2.02,2.2],[2.04,1.5],[2.07,0.8],[2.09,-1.2],[2.12,-3.3],[2.16,-0.5],[2.18,0.8],[2.2,-1.9],[2.23,-4.6],[2.26,-4.6],[2.29,-1.9],[2.31,-4.6],[2.33,4.9],[2.35,14.4],[2.37,23.9],[2.39,25.3],[2.41,17.1],[2.43,4.9],[2.45,1.5],[2.48,-3.3],[2.51,-2.6],[2.53,-6],[2.56,-9.4],[2.58,-9.4],[2.61,-6.7],[2.64,-4.6],[2.67,-3.9],[2.69,-1.9],[2.71,6.3],[2.73,10.3],[2.76,9.7],[2.78,7.6],[2.81,2.9],[2.84,1.5],[2.87,2.2],[2.9,6.3],[2.92,2.9],[2.93,-3.3],[2.96,0.1],[2.99,1.5],[3.02,0.8],[3.04,0.1],[3.06,-3.9],[3.09,-1.2],[3.12,-1.2],[3.16,-1.2],[3.2,-1.2],[3.23,-2.6],[3.27,-6],[3.3,-3.3],[3.33,-1.2],[3.35,2.2],[3.37,14.4],[3.39,21.9],[3.41,27.3],[3.44,18.5],[3.47,11.7],[3.49,4.2],[3.51,4.9],[3.53,7.6],[3.56,6.9],[3.59,8.3],[3.62,6.9],[3.65,6.9],[3.68,7.6],[3.7,2.2],[3.73,-2.6],[3.75,-4.6],[3.78,-3.9],[3.81,-4.6],[3.84,-3.9],[3.87,-1.9],[3.89,2.2],[3.92,4.9],[3.93,0.8],[3.95,-4.6],[3.97,-7.3],[4.0,-8.7],[4.03,-10.1],[4.06,-9.4],[4.09,-8.7],[4.12,-8],[4.15,-6.7],[4.17,-1.9],[4.2,2.9],[4.22,-1.9],[4.24,-3.3],[4.27,-3.9],[4.3,-3.9],[4.33,-4.6],[4.35,3.5],[4.37,18.5],[4.39,30.7],[4.41,29.4],[4.43,19.9],[4.45,10.3],[4.47,3.5],[4.49,-1.2],[4.52,-1.9],[4.55,-3.3],[4.58,-4.6],[4.61,-1.9],[4.64,0.8],[4.67,-1.2],[4.7,-1.2],[4.72,-3.3],[4.74,-7.3],[4.77,-8.7],[4.8,-7.3],[4.83,-6],[4.86,-1.9],[4.89,0.8],[4.92,4.2],[4.94,0.8],[4.97,6.3],[5.0,9.7],[5.03,9],[5.06,7.6],[5.09,6.3],[5.12,1.5],[5.14,-3.3],[5.16,-7.3],[5.18,-12.1],[5.19,-3.9],[5.21,-12.8],[5.23,-7.3],[5.25,-6],[5.27,-5.3],[5.3,-6.7],[5.33,-7.3],[5.35,0.8],[5.37,15.8],[5.39,25.3],[5.41,22.6],[5.43,15.8],[5.46,2.2],[5.48,0.8],[5.51,0.1],[5.54,-1.2],[5.57,-2.6],[5.6,-6],[5.63,-4.6],[5.66,-4.6],[5.69,-6],[5.71,-3.3],[5.74,-8.7],[5.77,-8],[5.79,-7.3],[5.82,-4.6],[5.84,-0.5],[5.87,-5.3],[5.88,2.2],[5.91,6.3],[5.93,2.9],[5.95,-1.2],[5.98,-0.5]];

// axis ranges and labels
const s3Domains = [[-20, 30], [-20, 20], [-20, 30]];
const s4Domains = [[-40, 30], [-30, 40], [-20, 50]];
const s5Domains = [[-30, 50], [-30, 20], [-20, 40]];
const rowLabels = ['Bx (nT)', 'By (nT)', 'Bz (nT)'];
const panelNames = ['S3', 'S4', 'S5'];
const timeTicks = [0, 1, 2, 3, 4, 5, 6];
const timeDomain = [0, 6];

let width = 3139, height = 2237;

let svg = d3.select('.viz').append('svg')
	.attr('width', width)
	.attr('height', height)
	.style('background', '#fff');

// layout of each panel (pixels)
let panels = [
	{ x0: 216, x1: 1438, tops: [57, 353, 648], bots: [297, 593, 892], domains: s3Domains,
	  series: [s3Bx, s3By, s3Bz], name: panelNames[0], nx: 1297, ny: 723 },
	{ x0: 1866, x1: 3086, tops: [56, 354, 648], bots: [298, 596, 890], domains: s4Domains,
	  series: [s4Bx, s4By, s4Bz], name: panelNames[1], nx: 1911, ny: 726 },
	{ x0: 213, x1: 1444, tops: [1212, 1514, 1812], bots: [1457, 1759, 2057], domains: s5Domains,
	  series: [s5Bx, s5By, s5Bz], name: panelNames[2], nx: 1340, ny: 1878 }
];

// plain hyphen for negatives, as in the figure
let fmt = function(d) { return String(d); };

panels.forEach(function(p) {
	let g = svg.append('g');

	let x = d3.scaleLinear()
		.domain(timeDomain)
		.range([p.x0, p.x1]);

	p.series.forEach(function(data, i) {
		let dom = p.domains[i];
		let y = d3.scaleLinear()
			.domain(dom)
			.range([p.bots[i], p.tops[i]]);

		let all = d3.range(dom[0], dom[1] + 0.1, 10);
		let major = all.filter(function(v) { return v % 20 === 0; });
		let minor = all.filter(function(v) { return v % 20 !== 0; });

		// minor ticks
		g.append('g')
			.attr('transform', 'translate(' + p.x0 + ',0)')
			.call(d3.axisLeft(y).tickValues(minor).tickSize(13).tickSizeOuter(0).tickFormat(''))
			.call(styleAxis);

		// major ticks + labels
		g.append('g')
			.attr('transform', 'translate(' + p.x0 + ',0)')
			.call(d3.axisLeft(y).tickValues(major).tickSize(23).tickSizeOuter(0).tickPadding(10).tickFormat(fmt))
			.call(styleAxis)
			.selectAll('text')
			.attr('font-size', 48);

		// row title
		let cy = (p.tops[i] + p.bots[i]) / 2 + 4;
		g.append('text')
			.attr('transform', 'translate(' + (p.x0 - 148) + ',' + cy + ')rotate(-90)')
			.attr('text-anchor', 'middle')
			.attr('dominant-baseline', 'central')
			.attr('font-size', 52)
			.text(rowLabels[i]);

		let line = d3.line()
			.x(function(d) { return x(d[0]); })
			.y(function(d) { return y(d[1]); });

		g.append('path')
			.datum(data)
			.attr('d', line)
			.attr('fill', 'none')
			.attr('stroke', '#000')
			.attr('stroke-width', 5)
			.attr('stroke-linejoin', 'round');
	});

	// time axis under the last row
	let yb = p.bots[2];
	g.append('g')
		.attr('transform', 'translate(0,' + yb + ')')
		.call(d3.axisBottom(x).tickValues(d3.range(0, 6.01, 0.25).filter(function(v) { return v % 1 !== 0; }))
			.tickSize(13).tickSizeOuter(0).tickFormat(''))
		.call(styleAxis);

	g.append('g')
		.attr('transform', 'translate(0,' + yb + ')')
		.call(d3.axisBottom(x).tickValues(timeTicks).tickSize(23).tickSizeOuter(0).tickPadding(17).tickFormat(fmt))
		.call(styleAxis)
		.selectAll('text')
		.attr('font-size', 48);

	g.append('text')
		.attr('x', (p.x0 + p.x1) / 2 + 11)
		.attr('y', yb + 136)
		.attr('text-anchor', 'middle')
		.attr('font-size', 54)
		.text('Time (sol)');

	g.append('text')
		.attr('x', p.nx)
		.attr('y', p.ny)
		.attr('font-size', 76)
		.text(p.name);
});

function styleAxis(sel) {
	sel.select('.domain')
		.attr('stroke', '#000')
		.attr('stroke-width', 8)
		.attr('stroke-linecap', 'square');
	sel.selectAll('.tick line')
		.attr('stroke', '#000')
		.attr('stroke-width', 7)
		.attr('stroke-linecap', 'round');
	sel.selectAll('.tick text')
		.attr('fill', '#000');
	sel.attr('font-family', null);
}
</script>
</body>
</html>
